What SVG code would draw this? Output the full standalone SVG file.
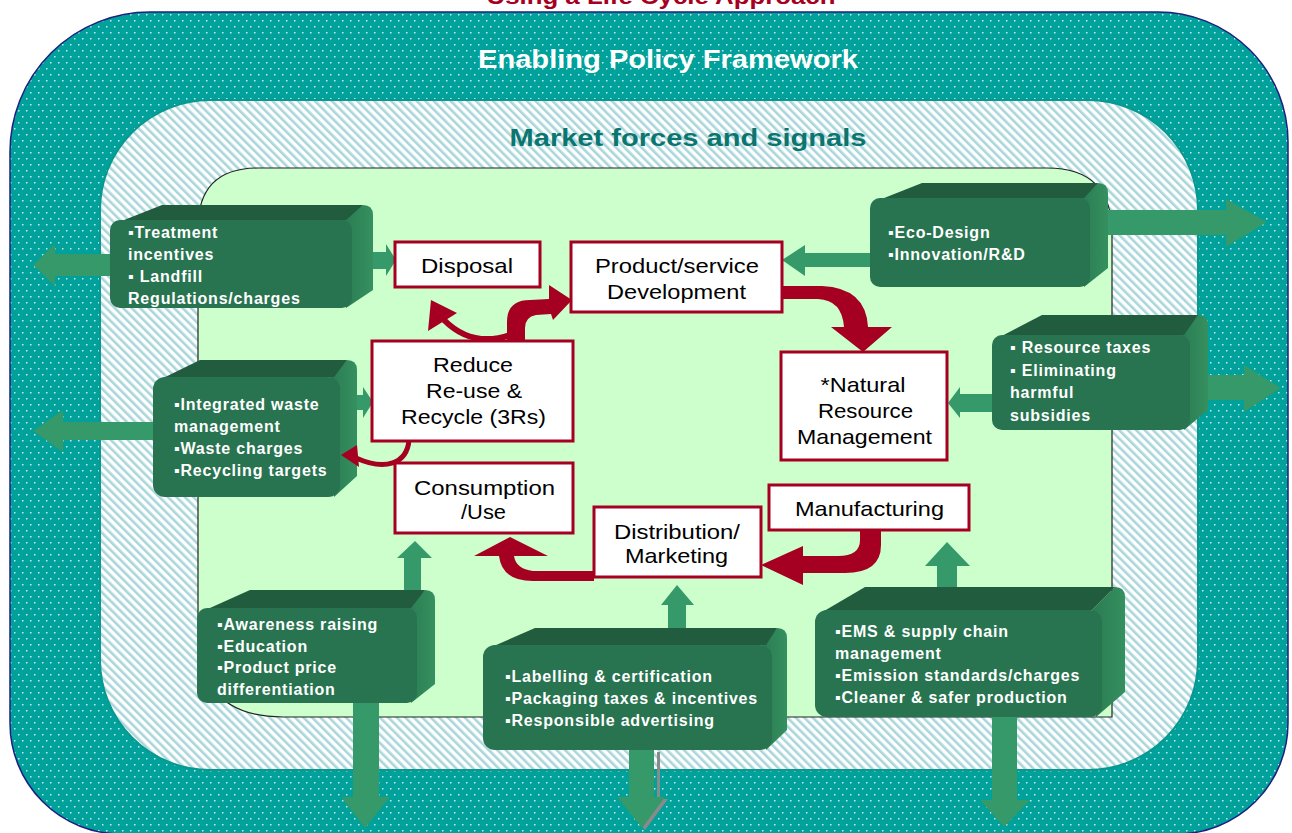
<svg xmlns="http://www.w3.org/2000/svg" width="1292" height="833" viewBox="0 0 1292 833">
<defs>
<pattern id="dots" width="8" height="12" patternUnits="userSpaceOnUse">
<rect width="8" height="12" fill="#00A19A"/>
<rect x="2" y="2" width="1.5" height="1.5" fill="#C4ECE9"/>
<rect x="6" y="8" width="1.5" height="1.5" fill="#C4ECE9"/>
</pattern>
<pattern id="hatch" width="6" height="6" patternUnits="userSpaceOnUse" patternTransform="rotate(-45)">
<rect width="6" height="6" fill="#FFFFFF"/>
<rect width="2.6" height="6" fill="#A9D6DB"/>
</pattern>
<linearGradient id="sideg" x1="0" y1="0" x2="1" y2="0">
<stop offset="0" stop-color="#2A7B52"/>
<stop offset="1" stop-color="#35905F"/>
</linearGradient>
</defs>
<style>
.gtxt{font-family:"Liberation Sans",Arial,sans-serif;font-weight:bold;font-size:16px;fill:#FFFFFF;letter-spacing:0.8px}
.btxt{font-family:"Liberation Sans",Arial,sans-serif;font-size:21px;fill:#000000;text-anchor:middle}
.front{fill:#287450}
.top{fill:#215C3E}
.side{fill:url(#sideg)}
.wbox{fill:#FFFFFF;stroke:#A50021;stroke-width:3}
.garrow{fill:#35996A}
.rarrow{fill:#A50021}
.rline{fill:none;stroke:#A50021}
</style>

<!-- background layers -->
<rect width="1292" height="833" fill="#FFFFFF"/>
<text x="661" y="4" text-anchor="middle" textLength="349" lengthAdjust="spacingAndGlyphs" style="font-family:'Liberation Sans',Arial,sans-serif;font-weight:bold;font-size:22px;fill:#A50021">Using a Life Cycle Approach</text>
<path d="M10,152 A140,140 0 0 1 150,12 L1158,12 A130,130 0 0 1 1288,142 L1288,723 A111,111 0 0 1 1177,834 L121,834 A111,111 0 0 1 10,723 Z" fill="url(#dots)" stroke="#1F1F80" stroke-width="1.5"/>
<text x="668" y="68" text-anchor="middle" textLength="380" lengthAdjust="spacingAndGlyphs" style="font-family:'Liberation Sans',Arial,sans-serif;font-weight:bold;font-size:25px;fill:#FFFFFF">Enabling Policy Framework</text>
<rect x="100" y="100" width="1098" height="670" rx="110" ry="110" fill="url(#hatch)" stroke="#089890" stroke-width="2"/>
<text x="688" y="146" text-anchor="middle" textLength="357" lengthAdjust="spacingAndGlyphs" style="font-family:'Liberation Sans',Arial,sans-serif;font-weight:bold;font-size:24px;fill:#0B7570">Market forces and signals</text>
<path d="M198,228 Q198,168 258,168 L1047,168 Q1112,168 1112,233 L1112,717 L283,717 Q198,717 198,632 Z" fill="#CCFFCC" stroke="#222222" stroke-width="1.2"/>

<!-- green arrows -->
<g id="policy-arrows">
<polygon class="garrow" points="33,265 55,244 55,254 114,254 114,276 55,276 55,286"/>
<polygon class="garrow" points="396,260 386,244 386,252 370,252 370,269 386,269 386,276"/>
<polygon class="garrow" points="782,260 805,245 805,253 874,253 874,267 805,267 805,276"/>
<polygon class="garrow" points="1267,222 1226,199 1226,210 1098,210 1098,235 1226,235 1226,247"/>
<polygon class="garrow" points="33,431 63,410 63,422 157,422 157,440 63,440 63,452"/>
<polygon class="garrow" points="373,402 363,387 363,395 352,395 352,410 363,410 363,418"/>
<polygon class="garrow" points="948,403 960,387 960,394 996,394 996,412 960,412 960,418"/>
<polygon class="garrow" points="1281,388 1244,365 1244,375 1186,375 1186,400 1244,400 1244,412"/>
<polygon class="garrow" points="415,541 432,558 421,558 421,595 404,595 404,558 397,558"/>
<polygon class="garrow" points="365,828 341,797 353,797 353,700 379,700 379,797 390,797"/>
<polygon class="garrow" points="677,585 694,605 686,605 686,632 668,632 668,605 661,605"/>
<polygon points="645,830 620,799 657,799 657,752 660,752 660,799 668,799" fill="#8A8A8A"/>
<polygon class="garrow" points="642,828 617,797 629,797 629,748 654,748 654,797 665,797"/>
<polygon class="garrow" points="947,542 970,566 957,566 957,592 937,592 937,566 925,566"/>
<polygon class="garrow" points="1004,827 980,800 992,800 992,713 1017,713 1017,800 1030,800"/>
</g>

<!-- green policy boxes -->
<g id="box-treatment">
<path class="side" d="M342,220 L363,205 Q373,205 373,215 L373,290 L346,308 Z"/>
<path class="top" d="M114,224 L162,205 L363,205 L346,220 Z"/>
<rect class="front" x="110" y="220" width="242" height="88" rx="10"/>
<text class="gtxt" x="128" y="238">▪Treatment</text>
<text class="gtxt" x="128" y="260">incentives</text>
<text class="gtxt" x="128" y="282">▪ Landfill</text>
<text class="gtxt" x="128" y="304">Regulations/charges</text>
</g>
<g id="box-ecodesign">
<path class="side" d="M1080,198 L1098,183 Q1108,183 1108,193 L1108,268 L1084,287 Z"/>
<path class="top" d="M874,202 L922,183 L1098,183 L1084,198 Z"/>
<rect class="front" x="870" y="198" width="220" height="89" rx="10"/>
<text class="gtxt" x="888" y="238">▪Eco-Design</text>
<text class="gtxt" x="888" y="260">▪Innovation/R&amp;D</text>
</g>
<g id="box-waste">
<path class="side" d="M330,377 L347,360 Q357,360 357,370 L357,476 L334,497 Z"/>
<path class="top" d="M157,381 L200,360 L347,360 L334,377 Z"/>
<rect class="front" x="153" y="377" width="187" height="120" rx="12"/>
<text class="gtxt" x="174" y="410">▪Integrated waste</text>
<text class="gtxt" x="174" y="432">management</text>
<text class="gtxt" x="174" y="454">▪Waste charges</text>
<text class="gtxt" x="174" y="476">▪Recycling targets</text>
</g>
<g id="box-resource">
<path class="side" d="M1180,335 L1198,315 Q1208,315 1208,325 L1208,410 L1184,430 Z"/>
<path class="top" d="M996,339 L1042,315 L1198,315 L1184,335 Z"/>
<rect class="front" x="992" y="335" width="198" height="95" rx="10"/>
<text class="gtxt" x="1010" y="353">▪ Resource taxes</text>
<text class="gtxt" x="1010" y="376">▪ Eliminating</text>
<text class="gtxt" x="1010" y="398">harmful</text>
<text class="gtxt" x="1010" y="421">subsidies</text>
</g>
<g id="box-awareness">
<path class="side" d="M407,608 L425,590 Q435,590 435,600 L435,684 L411,703 Z"/>
<path class="top" d="M201,612 L250,590 L425,590 L411,608 Z"/>
<rect class="front" x="197" y="608" width="220" height="95" rx="10"/>
<text class="gtxt" x="217" y="630">▪Awareness raising</text>
<text class="gtxt" x="217" y="652">▪Education</text>
<text class="gtxt" x="217" y="673">▪Product price</text>
<text class="gtxt" x="217" y="695">differentiation</text>
</g>
<g id="box-labelling">
<path class="side" d="M762,645 L777,628 Q787,628 787,638 L787,730 L766,750 Z"/>
<path class="top" d="M487,649 L535,628 L777,628 L766,645 Z"/>
<rect class="front" x="483" y="645" width="289" height="105" rx="12"/>
<text class="gtxt" x="505" y="682">▪Labelling &amp; certification</text>
<text class="gtxt" x="505" y="704">▪Packaging taxes &amp; incentives</text>
<text class="gtxt" x="505" y="726">▪Responsible advertising</text>
</g>
<g id="box-ems">
<path class="side" d="M1092,610 L1115,587 Q1125,587 1125,597 L1125,692 L1096,717 Z"/>
<path class="top" d="M819,614 L865,587 L1115,587 L1092,610 Z"/>
<rect class="front" x="815" y="610" width="287" height="107" rx="12"/>
<text class="gtxt" x="835" y="637">▪EMS &amp; supply chain</text>
<text class="gtxt" x="835" y="659">management</text>
<text class="gtxt" x="835" y="681">▪Emission standards/charges</text>
<text class="gtxt" x="835" y="703">▪Cleaner &amp; safer production</text>
</g>

<!-- life cycle connectors -->
<g id="cycle-arrows">
<path class="rarrow" d="M507,342 L507,322 Q507,300 530,300 L549,299 L549,285 L572,300 L553,320 L551,314 L536,315 Q525,317 525,328 L525,342 Z"/>
<path class="rline" stroke-width="6" d="M510,335 Q472,348 444,320"/>
<polygon class="rarrow" points="431,300 428,331 457,313"/>
<path class="rarrow" d="M782,286 L822,286 Q866,288 868,327 L892,327 L863,352 L831,327 L844,327 Q842,300 818,299 L782,299 Z"/>
<path class="rarrow" d="M860,528 L881,528 L881,545 Q881,573 845,573 L803,573 L803,585 L761,565 L803,546 L803,556 L838,556 Q860,556 860,540 Z"/>
<path class="rarrow" d="M594,571 L533,571 Q516,569 514,556 L548,556 L510,537 L474,556 L499,556 Q502,581 533,581 L594,581 Z"/>
<path class="rline" stroke-width="5" d="M409,440 C407,464 385,471 356,458"/>
<polygon class="rarrow" points="341,455 357,445 359,467"/>
</g>

<!-- life cycle stages -->
<g id="stage-disposal">
<rect class="wbox" x="395" y="242" width="145" height="45"/>
<text class="btxt" x="467" y="273" textLength="92" lengthAdjust="spacingAndGlyphs">Disposal</text>
</g>
<g id="stage-product">
<rect class="wbox" x="571" y="242" width="211" height="70"/>
<text class="btxt" x="677" y="273" textLength="164" lengthAdjust="spacingAndGlyphs">Product/service</text>
<text class="btxt" x="676.5" y="299" textLength="139" lengthAdjust="spacingAndGlyphs">Development</text>
</g>
<g id="stage-3rs">
<rect class="wbox" x="372" y="341" width="201" height="100"/>
<text class="btxt" x="473" y="372" textLength="80" lengthAdjust="spacingAndGlyphs">Reduce</text>
<text class="btxt" x="474" y="398" textLength="96" lengthAdjust="spacingAndGlyphs">Re-use &amp;</text>
<text class="btxt" x="473.5" y="424" textLength="145" lengthAdjust="spacingAndGlyphs">Recycle (3Rs)</text>
</g>
<g id="stage-natural">
<rect class="wbox" x="781" y="352" width="166" height="108"/>
<text class="btxt" x="863" y="392" textLength="85" lengthAdjust="spacingAndGlyphs">*Natural</text>
<text class="btxt" x="865.5" y="418" textLength="95" lengthAdjust="spacingAndGlyphs">Resource</text>
<text class="btxt" x="864.5" y="444" textLength="135" lengthAdjust="spacingAndGlyphs">Management</text>
</g>
<g id="stage-consumption">
<rect class="wbox" x="395" y="463" width="178" height="70"/>
<text class="btxt" x="484.5" y="495" textLength="141" lengthAdjust="spacingAndGlyphs">Consumption</text>
<text class="btxt" x="483.5" y="519" textLength="45" lengthAdjust="spacingAndGlyphs">/Use</text>
</g>
<g id="stage-manufacturing">
<rect class="wbox" x="769" y="485" width="200" height="45"/>
<text class="btxt" x="869.5" y="516" textLength="149" lengthAdjust="spacingAndGlyphs">Manufacturing</text>
</g>
<g id="stage-distribution">
<rect class="wbox" x="594" y="507" width="167" height="70"/>
<text class="btxt" x="677" y="539" textLength="126" lengthAdjust="spacingAndGlyphs">Distribution/</text>
<text class="btxt" x="676.5" y="563" textLength="103" lengthAdjust="spacingAndGlyphs">Marketing</text>
</g>
</svg>
